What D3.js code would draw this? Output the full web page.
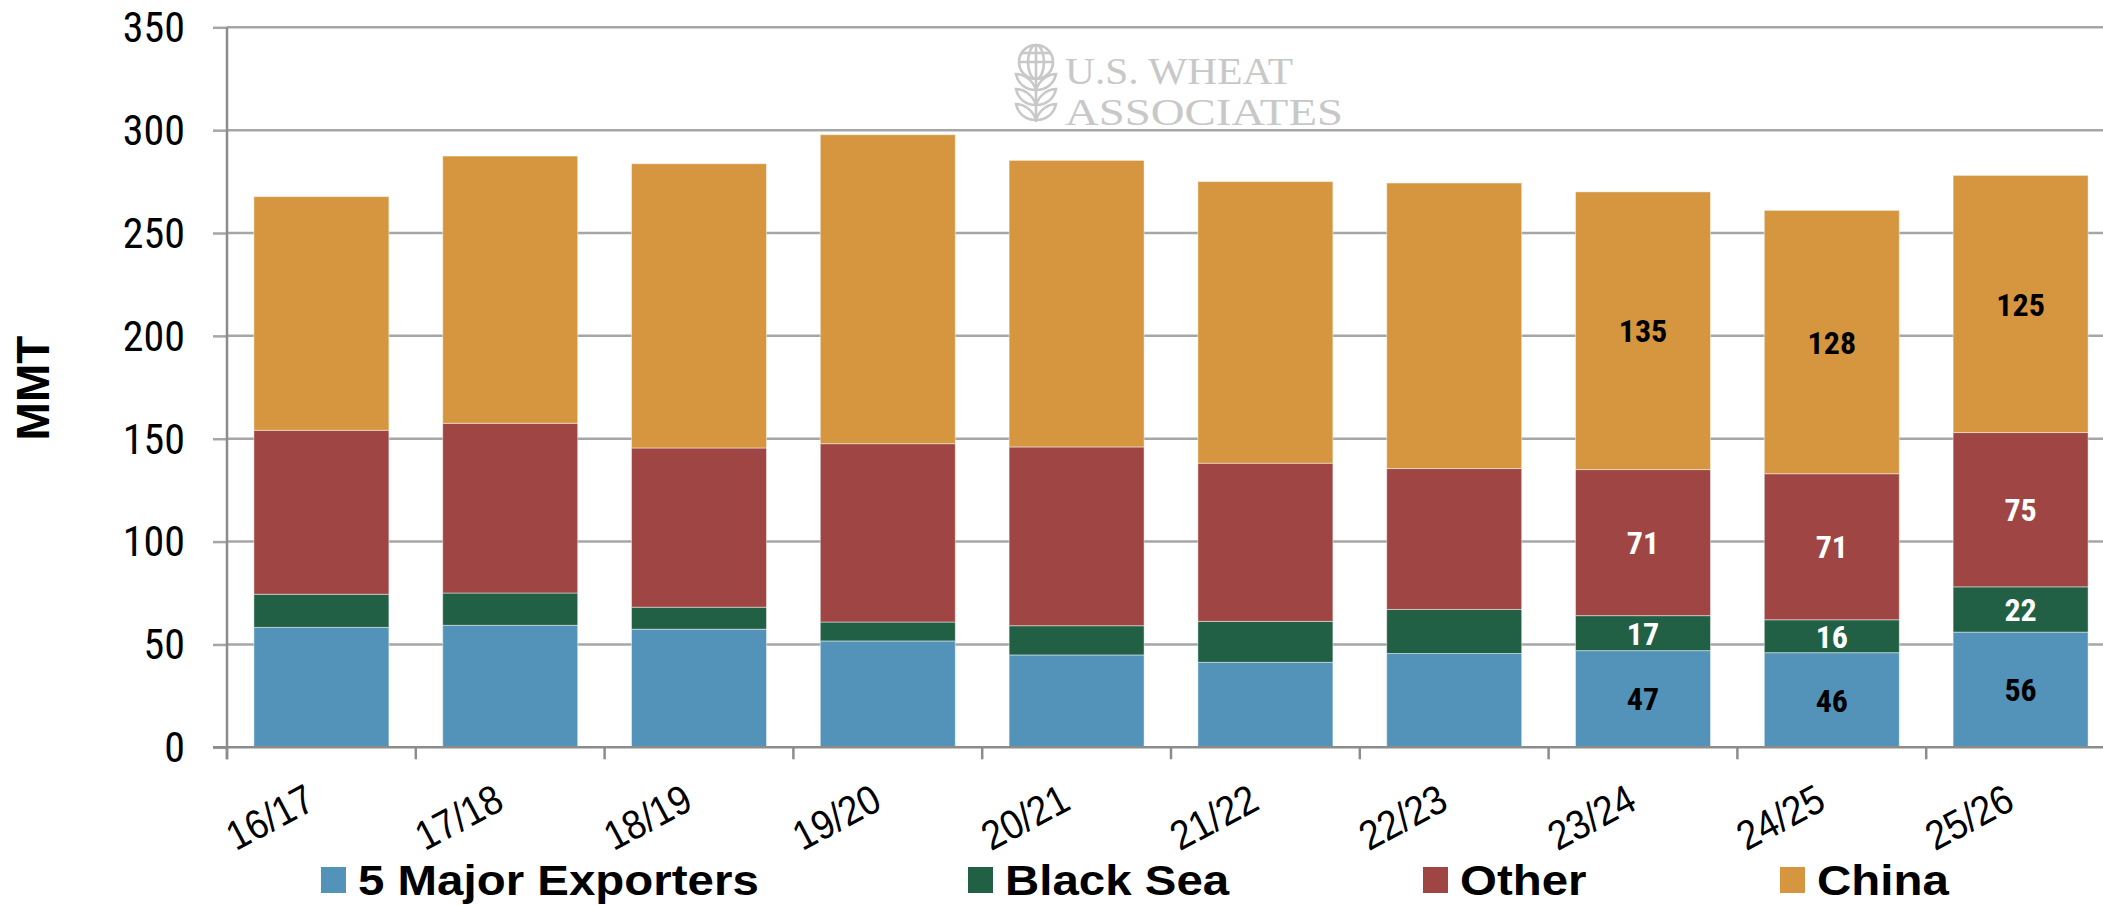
<!DOCTYPE html>
<html>
<head>
<meta charset="utf-8">
<script src="https://cdn.jsdelivr.net/npm/d3@7"></script>
<style>
  html, body { margin: 0; padding: 0; background: #fff; }
  svg { display: block; }
</style>
</head>
<body>
<svg id="chart" width="2103" height="905"></svg>
<script>
// ---------------- data ----------------
const categories = ["16/17", "17/18", "18/19", "19/20", "20/21", "21/22", "22/23", "23/24", "24/25", "25/26"];
const seriesNames = ["5 Major Exporters", "Black Sea", "Other", "China"];
const majorExporters = [58.3, 59.3, 57.4, 51.7, 44.9, 41.3, 45.6, 47, 46, 56];
const blackSea       = [16.1, 15.7, 10.7, 9.2, 14.2, 19.9, 21.4, 17, 16, 22];
const other          = [79.7, 82.5, 77.4, 86.7, 86.9, 76.9, 68.5, 71, 71, 75];
const china          = [113.6, 129.9, 138.2, 150.2, 139.3, 136.9, 138.8, 135, 128, 125];
const labeledCategories = ["23/24", "24/25", "25/26"];
const yTicks = [0, 50, 100, 150, 200, 250, 300, 350];
const yLabel = "MMT";
const logoLines = ["U.S. WHEAT", "ASSOCIATES"];

// ---------------- style ----------------
const colors = ["#5393B9", "#216045", "#9F4644", "#D5963F"];
const labelColors = ["#000", "#fff", "#fff", "#000"];
const narrow = "'Liberation Sans Narrow', 'Roboto Condensed', 'DejaVu Sans Condensed', sans-serif";
const sans = "'Liberation Sans', Arial, sans-serif";

const svg = d3.select("#chart");
const plotLeft = 227, plotTop = 27.3, plotBottom = 747.3, step = 188.8;
const plotRight = plotLeft + step * categories.length;

const x = d3.scaleBand().domain(categories).range([plotLeft, plotRight])
  .paddingInner(0.285).paddingOuter(0.1425);
const y = d3.scaleLinear().domain([0, 350]).range([plotBottom, plotTop]);

const rows = categories.map((c, i) => ({
  cat: c,
  [seriesNames[0]]: majorExporters[i],
  [seriesNames[1]]: blackSea[i],
  [seriesNames[2]]: other[i],
  [seriesNames[3]]: china[i]
}));
const stacked = d3.stack().keys(seriesNames)(rows);

// gridlines + y ticks
const yAxis = d3.axisLeft(y).tickValues(yTicks).tickSize(14).tickPadding(28).tickFormat(d3.format("d"));
const yg = svg.append("g").attr("transform", `translate(${plotLeft},0)`).call(yAxis);
yg.select(".domain").remove();
yg.selectAll(".tick line").attr("stroke", "#a6a6a6").attr("stroke-width", 2.5);
yg.selectAll(".tick text")
  .attr("font-family", narrow).attr("font-size", 42).attr("fill", "#000")
  .attr("dy", "0.34em");
svg.append("g").selectAll("line").data(yTicks.filter(d => d !== 0)).join("line")
  .attr("x1", plotLeft).attr("x2", plotRight)
  .attr("y1", d => y(d)).attr("y2", d => y(d))
  .attr("stroke", "#a6a6a6").attr("stroke-width", 2.5);

// logo
const logo = svg.append("g").attr("fill", "none").attr("stroke", "#c8c8c8").attr("stroke-width", 2.6);
const gx = 1036, gy = 62;
logo.append("circle").attr("cx", gx).attr("cy", gy).attr("r", 17);
logo.append("ellipse").attr("cx", gx).attr("cy", gy).attr("rx", 8).attr("ry", 17);
logo.append("line").attr("x1", gx).attr("x2", gx).attr("y1", gy - 17).attr("y2", gy + 60);
logo.append("line").attr("x1", gx - 17).attr("x2", gx + 17).attr("y1", gy).attr("y2", gy);
logo.append("line").attr("x1", gx - 14).attr("x2", gx + 14).attr("y1", gy - 9).attr("y2", gy - 9);
[0, 1, 2].forEach(k => {
  const yy = gy + 16 + k * 15;
  logo.append("path").attr("d", `M${gx},${yy + 12} C${gx - 4},${yy} ${gx - 14},${yy - 4} ${gx - 20},${yy - 4} C${gx - 18},${yy + 6} ${gx - 10},${yy + 12} ${gx},${yy + 12}`);
  logo.append("path").attr("d", `M${gx},${yy + 12} C${gx + 4},${yy} ${gx + 14},${yy - 4} ${gx + 20},${yy - 4} C${gx + 18},${yy + 6} ${gx + 10},${yy + 12} ${gx},${yy + 12}`);
});
const logoWidths = [228, 278];
const logoBaselines = [84, 125];
logoLines.forEach((t, i) => {
  svg.append("text").attr("x", 1065).attr("y", logoBaselines[i])
    .attr("font-family", "'Liberation Serif', serif")
    .attr("font-size", 37).attr("fill", "#c8c8c8")
    .attr("textLength", logoWidths[i]).attr("lengthAdjust", "spacingAndGlyphs").text(t);
});

// bars
const layers = svg.append("g").selectAll("g").data(stacked).join("g")
  .attr("fill", (d, i) => colors[i]);
layers.selectAll("rect").data(d => d).join("rect")
  .attr("x", d => x(d.data.cat))
  .attr("width", x.bandwidth())
  .attr("y", d => y(d[1]))
  .attr("height", d => y(d[0]) - y(d[1]))
  .attr("stroke", "rgba(255,255,255,0.45)").attr("stroke-width", 1);

// value labels
stacked.forEach((layer, si) => {
  svg.append("g").selectAll("text")
    .data(layer.filter(d => labeledCategories.includes(d.data.cat)))
    .join("text")
    .attr("x", d => x(d.data.cat) + x.bandwidth() / 2)
    .attr("y", d => (y(d[0]) + y(d[1])) / 2)
    .attr("dy", "0.36em")
    .attr("text-anchor", "middle")
    .attr("font-family", narrow).attr("font-weight", "bold").attr("font-size", 32)
    .attr("fill", labelColors[si])
    .text(d => d3.format("d")(d[1] - d[0]));
});

// axes lines
svg.append("line").attr("x1", plotLeft - 14).attr("x2", plotRight).attr("y1", plotBottom).attr("y2", plotBottom)
  .attr("stroke", "#8c8c8c").attr("stroke-width", 2.5);
svg.append("line").attr("x1", plotLeft).attr("x2", plotLeft).attr("y1", plotTop).attr("y2", plotBottom + 12)
  .attr("stroke", "#8c8c8c").attr("stroke-width", 2.5);

// x ticks (band boundaries)
svg.append("g").selectAll("line").data(categories).join("line")
  .attr("x1", d => x(d) - x.step() * 0.1425).attr("x2", d => x(d) - x.step() * 0.1425)
  .attr("y1", plotBottom).attr("y2", plotBottom + 12)
  .attr("stroke", "#8c8c8c").attr("stroke-width", 2.5);

// x labels
svg.append("g").selectAll("text").data(categories).join("text")
  .attr("text-anchor", "end")
  .attr("font-family", sans).attr("font-size", 41).attr("fill", "#000")
  .attr("transform", d => `translate(${x(d) + x.bandwidth() / 2 - 4},808) rotate(-28) scale(0.9,1)`)
  .text(d => d);

// y title
svg.append("text").attr("transform", "translate(49,388) rotate(-90)")
  .attr("text-anchor", "middle").attr("font-family", sans).attr("font-weight", "bold")
  .attr("font-size", 46).attr("fill", "#000").text(yLabel);

// legend
const legendX = [321, 968, 1423, 1780];
const lg = svg.append("g").selectAll("g").data(seriesNames).join("g")
  .attr("transform", (d, i) => `translate(${legendX[i]},0)`);
lg.append("rect").attr("x", 0).attr("y", 867).attr("width", 25).attr("height", 26)
  .attr("fill", (d, i) => colors[i]);
lg.append("text").attr("transform", "translate(37,895) scale(1.13,1)")
  .attr("font-family", sans).attr("font-weight", "bold").attr("font-size", 42).attr("fill", "#000")
  .text(d => d);
</script>
</body>
</html>
